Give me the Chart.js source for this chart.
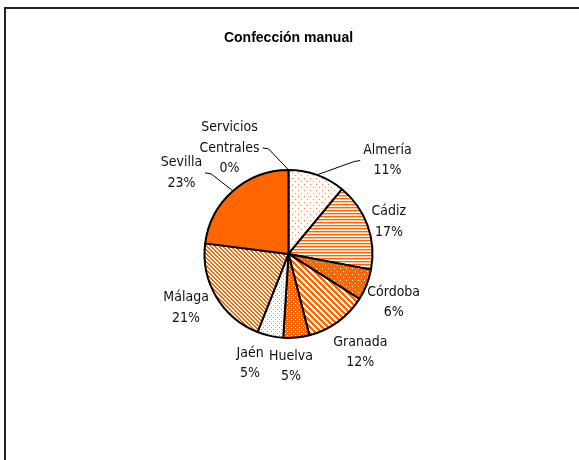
<!DOCTYPE html>
<html>
<head>
<meta charset="utf-8">
<script src="https://cdn.jsdelivr.net/npm/chart.js@4.4.0/dist/chart.umd.min.js"></script>
<style>
  html, body { margin: 0; padding: 0; background: #fff; }
</style>
</head>
<body>
<canvas id="grafico" width="579" height="460"></canvas>
<script>
// Datos del gráfico
var provincias = ['Almería', 'Cádiz', 'Córdoba', 'Granada', 'Huelva', 'Jaén', 'Málaga', 'Sevilla', 'Servicios Centrales'];
var porcentajes = [11, 17, 6, 12, 5, 5, 21, 23, 0];

var NARANJA = '#FF6600';

// Tramas de relleno (imitan los patrones de Excel)
function patron(w, h, fondo, dibujar) {
  var c = document.createElement('canvas');
  c.width = w; c.height = h;
  var g = c.getContext('2d');
  g.fillStyle = fondo;
  g.fillRect(0, 0, w, h);
  dibujar(g, w, h);
  return g.createPattern(c, 'repeat');
}
function px(g, x, y, col) { g.fillStyle = col; g.fillRect(x, y, 1, 1); }

var rellenos = [
  // Almería: puntos dispersos
  patron(6, 6, '#fff', function (g) { px(g, 1, 1, '#FF8A40'); px(g, 4, 4, '#FF8A40'); }),
  // Cádiz: rayas horizontales
  patron(1, 3, '#fff', function (g) { px(g, 0, 0, NARANJA); px(g, 0, 1, '#FFC299'); }),
  // Córdoba: naranja con puntos blancos
  patron(6, 6, NARANJA, function (g) { px(g, 1, 1, '#fff'); px(g, 4, 4, '#fff'); }),
  // Granada: diagonal ancha
  patron(6, 6, '#fff', function (g, w, h) {
    for (var y = 0; y < h; y++) for (var x = 0; x < w; x++)
      if (((x - y) % 6 + 6) % 6 < 3) px(g, x, y, NARANJA);
  }),
  // Huelva: naranja con cuadritos blancos
  patron(4, 4, NARANJA, function (g) { px(g, 1, 1, '#fff'); px(g, 3, 3, '#fff'); }),
  // Jaén: blanco con puntos naranjas densos
  patron(4, 4, '#fff', function (g) { px(g, 1, 1, '#FF8A40'); px(g, 3, 3, '#FF8A40'); }),
  // Málaga: diagonal fina
  patron(4, 4, '#fff', function (g, w, h) {
    for (var y = 0; y < h; y++) for (var x = 0; x < w; x++)
      if (((x - y) % 4 + 4) % 4 < 2) px(g, x, y, NARANJA);
  }),
  // Sevilla: sólido
  NARANJA,
  // Servicios Centrales
  '#fff'
];

// Marco del área del gráfico
var marco = {
  id: 'marco',
  beforeDraw: function (chart) {
    var c = chart.ctx;
    c.save();
    c.strokeStyle = '#222';
    c.lineWidth = 2;
    c.beginPath();
    c.moveTo(5, 460);
    c.lineTo(5, 8);
    c.lineTo(579, 8);
    c.stroke();
    c.restore();
  }
};

// Etiquetas exteriores con líneas guía
var etiquetasExternas = {
  id: 'etiquetasExternas',
  afterDraw: function (chart, args, opts) {
    var c = chart.ctx;
    var meta = chart.getDatasetMeta(0);
    var valores = chart.data.datasets[0].data;
    c.save();
    c.font = opts.font;
    c.fillStyle = '#111';
    c.strokeStyle = '#000';
    c.lineWidth = 1;
    c.textAlign = 'center';
    c.textBaseline = 'middle';
    meta.data.forEach(function (arco, i) {
      var p = arco.getProps(['x', 'y', 'startAngle', 'endAngle', 'outerRadius'], true);
      var medio = (p.startAngle + p.endAngle) / 2;
      var d = p.outerRadius + opts.distancia;
      var aj = opts.ajustes[i];
      var cx = p.x + Math.cos(medio) * d + aj[0];
      var cy = p.y + Math.sin(medio) * d + aj[1];
      var lineas = chart.data.labels[i].split(' ').concat([valores[i] + '%']);
      var ancho = 0;
      lineas.forEach(function (t) { ancho = Math.max(ancho, c.measureText(t).width); });
      var y0 = cy - (lineas.length - 1) * opts.interlineado / 2;
      lineas.forEach(function (t, k) { c.fillText(t, cx, y0 + k * opts.interlineado); });
      if (opts.guias[i]) {
        var ax = p.x + Math.cos(medio) * p.outerRadius;
        var ay = p.y + Math.sin(medio) * p.outerRadius;
        var lado = ax < cx ? -1 : 1;
        var ex = cx + lado * (ancho / 2 + 3);
        c.beginPath();
        c.moveTo(ex, cy);
        c.lineTo(ex + lado * 6, cy + 1);
        c.lineTo(ax, ay);
        c.stroke();
      }
    });
    c.restore();
  }
};

var ctx = document.getElementById('grafico').getContext('2d');
var chart = new Chart(ctx, {
  type: 'pie',
  data: {
    labels: provincias,
    datasets: [{
      data: porcentajes,
      backgroundColor: rellenos,
      borderColor: '#000',
      borderWidth: 2,
      radius: 84
    }]
  },
  options: {
    responsive: false,
    animation: false,
    layout: { padding: { top: 30, bottom: 9, left: 0, right: 2 } },
    plugins: {
      legend: { display: false },
      tooltip: { enabled: false },
      title: {
        display: true,
        text: 'Confección manual',
        color: '#000',
        font: { family: 'Liberation Sans, Arial, sans-serif', size: 14, weight: 'bold', lineHeight: 1.2 },
        padding: { top: 0, bottom: 10 }
      },
      etiquetasExternas: {
        font: '14px "Liberation Sans Narrow", "DejaVu Sans Condensed", sans-serif',
        interlineado: 20.5,
        distancia: 28,
        ajustes: [[61, 12], [-5, 6], [1, 7], [6, 8], [-8, 1], [-14, 0], [-6, -3], [-33, 3], [-59, 6]],
        guias: [true, false, false, false, false, false, false, true, true]
      }
    }
  },
  plugins: [marco, etiquetasExternas]
});
</script>
</body>
</html>
